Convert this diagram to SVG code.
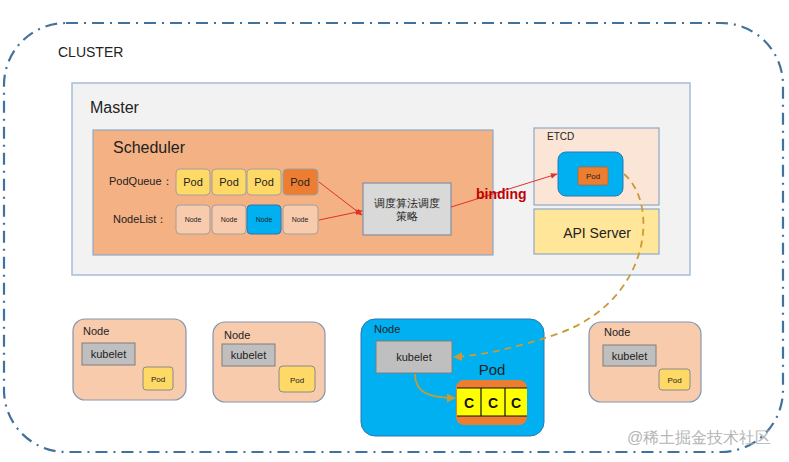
<svg xmlns="http://www.w3.org/2000/svg" width="789" height="462" viewBox="0 0 789 462">
<defs>
<style>
text{font-family:"Liberation Sans",Arial,sans-serif;fill:#222}
.box{stroke:#8ea9c9;stroke-width:1.2}
.pod{fill:#ffd966;stroke:#a0a0a0;stroke-width:1}
.pod2{fill:#ffd966;stroke:#8a8a8a;stroke-width:1}
.nd{fill:#f8cbad;stroke:#a0a0a0;stroke-width:1}
.kub{fill:#bfbfbf;stroke:#7f7f7f;stroke-width:1}
.node{fill:#f8cbad;stroke:#8497b0;stroke-width:1.2}
.red{stroke:#e03030;stroke-width:1;fill:none}
.gold{stroke:#c99a35;stroke-width:1.8;fill:none}
.cell{fill:#ffff00}
.c{font-weight:bold;font-size:14px;fill:#111}
</style>
<marker id="ar" viewBox="0 0 10 10" refX="9" refY="5" markerWidth="7" markerHeight="7" orient="auto"><path d="M0,1 L10,5 L0,9 z" fill="#e03030"/></marker>
<marker id="ag" viewBox="0 0 10 10" refX="9" refY="5" markerWidth="5" markerHeight="5" orient="auto"><path d="M0,0 L10,5 L0,10 z" fill="#c99a35"/></marker>
</defs>
<rect width="789" height="462" fill="#fff"/>
<g id="cluster">
<rect x="4" y="23" width="779" height="429" rx="62" fill="none" stroke="#41719c" stroke-width="2.2" stroke-dasharray="12 6 2 6"/>
<text x="58" y="57" font-size="14">CLUSTER</text>
</g>
<g id="master">
<rect x="72" y="83" width="618" height="192" fill="#f2f2f2" stroke="#a6bcd8" stroke-width="1.5"/>
<text x="90" y="113" font-size="16">Master</text>
</g>
<g id="scheduler">
<rect x="93" y="130" width="400" height="125" fill="#f4b183" class="box"/>
<text x="113" y="153" font-size="16">Scheduler</text>
<text x="109" y="185" font-size="11">PodQueue：</text>
<text x="113" y="223" font-size="11">NodeList：</text>
</g>
<g id="podqueue" font-size="11" text-anchor="middle">
<rect x="176" y="169" width="34" height="26" rx="4" class="pod"/>
<rect x="212" y="169" width="34" height="26" rx="4" class="pod"/>
<rect x="247" y="169" width="34" height="26" rx="4" class="pod"/>
<rect x="283" y="169" width="35" height="26" rx="4" fill="#ed7d31" stroke="#a0a0a0"/>
<text x="193" y="186">Pod</text><text x="229" y="186">Pod</text><text x="264" y="186">Pod</text><text x="300" y="186">Pod</text>
</g>
<g id="nodelist" font-size="7" text-anchor="middle">
<rect x="176" y="205" width="34" height="29" rx="4" class="nd"/>
<rect x="212" y="205" width="34" height="29" rx="4" class="nd"/>
<rect x="247" y="205" width="34" height="29" rx="4" fill="#00b0f0" stroke="#2e75b6"/>
<rect x="283" y="205" width="35" height="29" rx="4" class="nd"/>
<text x="193" y="222">Node</text><text x="229" y="222">Node</text><text x="264" y="222">Node</text><text x="300" y="222">Node</text>
</g>
<g id="strategy">
<rect x="363" y="183" width="88" height="52" fill="#d9d9d9" stroke="#7f8fa6" stroke-width="1.2"/>
<text x="407" y="207" font-size="10.5" text-anchor="middle" font-family="'Noto Sans CJK SC',sans-serif">调度算法调度</text>
<text x="407" y="220" font-size="10.5" text-anchor="middle" font-family="'Noto Sans CJK SC',sans-serif">策略</text>
</g>
<g id="etcd">
<rect x="534" y="128" width="125" height="77" fill="#fbe5d6" class="box"/>
<text x="547" y="140" font-size="10">ETCD</text>
<rect x="558" y="152" width="65" height="44" rx="8" fill="#00b0f0" stroke="#2e75b6"/>
<rect x="578" y="167" width="30" height="18" rx="2" fill="#ed7d31" stroke="#c55a11" stroke-width="0.6"/>
<text x="593" y="179" font-size="8" text-anchor="middle">Pod</text>
</g>
<g id="apiserver">
<rect x="534" y="209" width="125" height="45" fill="#ffe699" class="box"/>
<text x="597" y="238" font-size="14" text-anchor="middle">API Server</text>
</g>
<g id="node1">
<rect x="73" y="319" width="113" height="81" rx="12" class="node"/>
<text x="83" y="335" font-size="11">Node</text>
<rect x="82" y="343" width="53" height="22" class="kub"/>
<text x="108.5" y="358" font-size="11" text-anchor="middle">kubelet</text>
<rect x="143" y="367" width="30" height="23" rx="3" class="pod2"/>
<text x="158" y="382" font-size="8" text-anchor="middle">Pod</text>
</g>
<g id="node2">
<rect x="213" y="322" width="112" height="80" rx="12" class="node"/>
<text x="224" y="339" font-size="11">Node</text>
<rect x="222" y="344" width="53" height="22" class="kub"/>
<text x="248.5" y="359" font-size="11" text-anchor="middle">kubelet</text>
<rect x="279" y="366" width="36" height="26" rx="4" class="pod2"/>
<text x="297" y="383" font-size="8" text-anchor="middle">Pod</text>
</g>
<g id="node3">
<rect x="361" y="319" width="183" height="117" rx="14" fill="#00b0f0" stroke="#2e75b6" stroke-width="1"/>
<text x="374" y="333" font-size="11">Node</text>
<rect x="376" y="341" width="76" height="32" class="kub"/>
<text x="414" y="361" font-size="11" text-anchor="middle">kubelet</text>
<text x="492" y="375" font-size="15" text-anchor="middle">Pod</text>
<rect x="456" y="380" width="71" height="45" rx="8" fill="#ed7d31"/>
<rect x="457" y="388" width="70" height="28" class="cell"/>
<g stroke="#111" stroke-width="1.2">
<line x1="457" y1="388" x2="527" y2="388"/><line x1="457" y1="416" x2="527" y2="416"/>
<line x1="481" y1="388" x2="481" y2="416"/><line x1="505" y1="388" x2="505" y2="416"/>
</g>
<text x="469" y="408" class="c" text-anchor="middle">C</text>
<text x="493" y="408" class="c" text-anchor="middle">C</text>
<text x="516" y="408" class="c" text-anchor="middle">C</text>
</g>
<g id="node4">
<rect x="589" y="322" width="112" height="80" rx="12" class="node"/>
<text x="604" y="336" font-size="11">Node</text>
<rect x="603" y="345" width="53" height="21" class="kub"/>
<text x="629.5" y="360" font-size="11" text-anchor="middle">kubelet</text>
<rect x="659" y="369" width="31" height="21" rx="3" class="pod2"/>
<text x="674.5" y="383" font-size="8" text-anchor="middle">Pod</text>
</g>
<g id="connectors">
<path d="M319,182 L362,215" class="red" marker-end="url(#ar)"/>
<path d="M319,220 L362,211" class="red" marker-end="url(#ar)"/>
<path d="M451,207 L557,174" class="red" marker-end="url(#ar)"/>
<text x="476" y="199" font-size="14" font-weight="bold" style="fill:#c00000">binding</text>
<path d="M624,174 C660,205 650,300 560,333 C520,347 480,356 454,357" class="gold" stroke-dasharray="7 5" marker-end="url(#ag)"/>
<path d="M415,374 C415,392 428,398 455,398" class="gold" marker-end="url(#ag)"/>
</g>
<text x="627" y="443" font-size="16" style="fill:#b5b5b5" font-family="'Noto Sans CJK SC',sans-serif">@稀土掘金技术社区</text>
</svg>
